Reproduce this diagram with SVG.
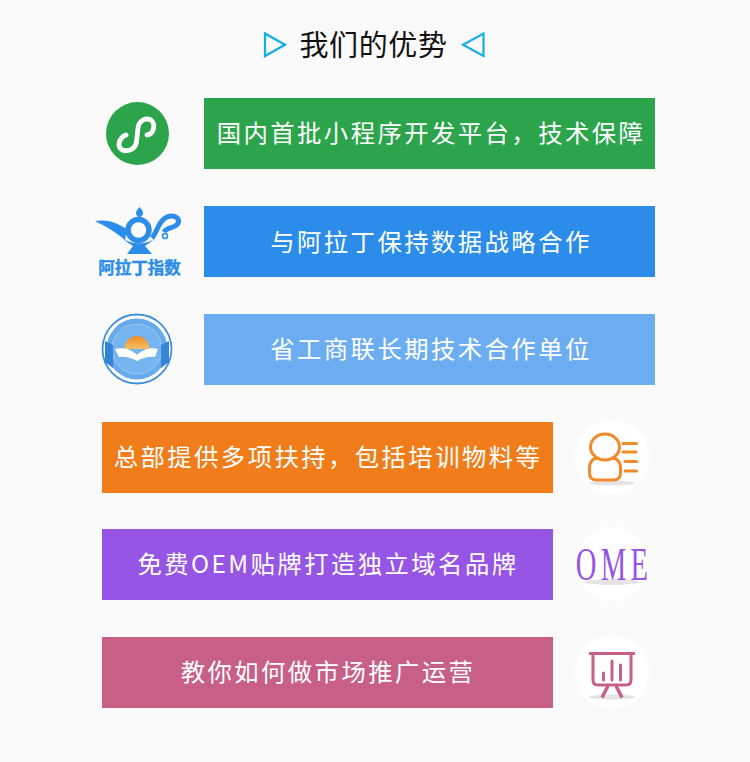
<svg xmlns="http://www.w3.org/2000/svg" width="750" height="762" viewBox="0 0 750 762">
<style>
.t{font-family:"Noto Sans CJK SC","Noto Sans",sans-serif;font-size:24.400px;fill:#fff;letter-spacing:2.400px;text-anchor:middle}
.tri{fill:none;stroke:#12aee8;stroke-width:2.200}
.w{fill:#fff}
.sh{fill:#e4e4e4}
</style>
<defs>
<linearGradient id="sun" x1="0" y1="0" x2="0" y2="1"><stop offset="0" stop-color="#f0892a"/><stop offset="1" stop-color="#f8c263"/></linearGradient>
</defs>
<rect width="750" height="762" fill="#fafafa"/>
<g id="title">
<path class="tri" d="M265 33.500V56L285 44.700Z"/>
<path class="tri" d="M483.500 33.500V56L463 44.700Z"/>
<text x="373.500" y="55.500" text-anchor="middle" font-family="'Noto Sans CJK SC',sans-serif" font-size="29" letter-spacing="0.600" fill="#111">我们的优势</text>
</g>
<g id="node-1">
<rect x="204" y="98" width="451" height="71" fill="#2ca44c"/>
<text class="t" x="431" y="142">国内首批小程序开发平台，技术保障</text>
<circle cx="137.500" cy="133.500" r="31.500" fill="#2ca44c"/>
<path d="M126 135C120 137 117.500 144 120 148C124 153 135 151 136.500 142L138 128C139 120 146 117.500 151 120C156 124 154 134 147 135" fill="none" stroke="#fff" stroke-width="4.800" stroke-linecap="round"/>
</g>
<g id="node-2">
<rect x="204" y="206" width="451" height="71" fill="#2b8de9"/>
<text class="t" x="431" y="251">与阿拉丁保持数据战略合作</text>
<path d="M139.500 207C144 212 144.500 214.500 139.500 217.500C134.500 214.500 135 212 139.500 207Z" fill="#2b8de9"/>
<path d="M95 221C107 219 116 222 127 229L125 240C114 231 105 226 95 221Z" fill="#2b8de9"/>
<circle cx="138.500" cy="230" r="10.500" fill="none" stroke="#2b8de9" stroke-width="5.500"/>
<path d="M152 238C158 231 158 221 167 217C173 214.500 179 217 178.500 222C177 229 167 226 164 232" fill="none" stroke="#2b8de9" stroke-width="5"/>
<circle cx="165" cy="236" r="2.500" fill="none" stroke="#2b8de9" stroke-width="1.500"/>
<path d="M123 238C130 245 148 245 155 238C150 243 146 245 145 246L152 254H127L133 246C132 245 127 243 123 238Z" fill="#2b8de9"/>
<text x="139.500" y="274" text-anchor="middle" font-family="'Noto Sans CJK SC',sans-serif" font-weight="700" font-size="16.500" fill="#2b8de9" stroke="#2b8de9" stroke-width="0.400">阿拉丁指数</text>
</g>
<g id="node-3">
<rect x="204" y="314" width="451" height="71" fill="#6cadf2"/>
<text class="t" x="431" y="358">省工商联长期技术合作单位</text>
<circle cx="137" cy="349" r="34.500" fill="#fff" stroke="#3f8fd8" stroke-width="1.800"/>
<circle cx="137" cy="349" r="30.500" fill="#66a9ec"/>
<circle cx="137" cy="349" r="25" fill="#76b4f0" stroke="#a5cff3" stroke-width="0.800"/>
<path d="M105 341L113 345V368L105 362ZM169 341L161 345V368L169 362Z" fill="#3585d6"/>
<path d="M124.500 349A12.500 13 0 0 1 149.500 349Z" fill="url(#sun)"/>
<path d="M115 349C123 347 132 350 137 355C142 350 151 347 158 349L155 357C149 356 142 358 137 361C132 358 125 356 119 357Z" fill="#fff"/>
</g>
<g id="node-4">
<rect x="102" y="422" width="451" height="71" fill="#f07d1a"/>
<text class="t" x="328" y="466">总部提供多项扶持，包括培训物料等</text>
<circle cx="612" cy="457" r="37" class="w"/>
<ellipse cx="612" cy="483" rx="23" ry="2.500" class="sh"/>
<g fill="none" stroke="#f08a2a" stroke-width="3">
<ellipse cx="605" cy="447" rx="14.500" ry="13"/>
<path d="M597 458C592 459 589.500 463 589.500 468V473C589.500 478 592 480 597 480H613C618 480 620.500 478 620.500 473V468C620.500 463 618 459 613 458"/>
<path d="M623 443.500H636.500M623 452H636M625 461.500H636.500M625 471H636.500" stroke-linecap="round"/>
</g>
</g>
<g id="node-5">
<rect x="102" y="529" width="451" height="71" fill="#9755e6"/>
<text class="t" x="328" y="573">免费OEM贴牌打造独立域名品牌</text>
<circle cx="612" cy="564" r="37" class="w"/>
<ellipse cx="612" cy="582" rx="27" ry="3" class="sh"/>
<text transform="translate(614 580) scale(0.610 1)" text-anchor="middle" font-family="'Liberation Serif',serif" font-size="47" letter-spacing="7" fill="#9755e6">OME</text>
</g>
<g id="node-6">
<rect x="102" y="637" width="451" height="71" fill="#c85f87"/>
<text class="t" x="328" y="681">教你如何做市场推广运营</text>
<circle cx="612" cy="672" r="37" class="w"/>
<ellipse cx="612" cy="697" rx="23" ry="2.500" class="sh"/>
<g fill="none" stroke="#c85f87" stroke-width="3">
<path d="M589 653.500H635"/>
<path d="M593 654V680Q593 685 598 685H626Q631 685 631 680V654"/>
<path d="M603.500 673V680M612 661V680M620.500 665V680" stroke-linecap="round"/>
<path d="M608 686L602 697.500M616 686L622 697.500" stroke-width="3.500"/>
</g>
</g>
<g id="connectors"></g>
</svg>
